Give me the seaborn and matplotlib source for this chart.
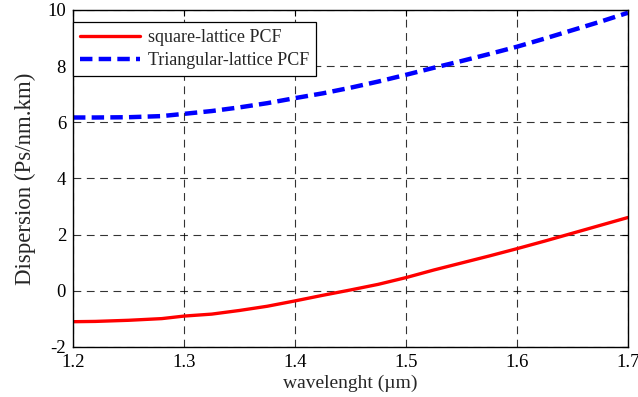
import matplotlib
matplotlib.use("Agg")
import matplotlib.pyplot as plt
import seaborn as sns
import pandas as pd

# Wavelength samples (um) and dispersion (ps/nm.km) for the two fibre designs
wavelength = [1.20, 1.22, 1.25, 1.28, 1.30, 1.325, 1.35, 1.375, 1.40, 1.425,
              1.45, 1.475, 1.50, 1.525, 1.55, 1.575, 1.60, 1.625, 1.65, 1.675, 1.70]
square_pcf = [-1.10, -1.09, -1.05, -0.99, -0.90, -0.83, -0.70, -0.55, -0.36, -0.16,
              0.03, 0.23, 0.47, 0.74, 0.99, 1.24, 1.50, 1.77, 2.05, 2.33, 2.61]
triangular_pcf = [6.17, 6.17, 6.18, 6.22, 6.30, 6.40, 6.53, 6.68, 6.86, 7.03,
                  7.23, 7.45, 7.69, 7.94, 8.18, 8.43, 8.69, 8.98, 9.28, 9.58, 9.90]

series_names = ["square-lattice PCF", "Triangular-lattice PCF"]
x_ticks = [1.2, 1.3, 1.4, 1.5, 1.6, 1.7]
y_ticks = [-2, 0, 2, 4, 6, 8, 10]

sns.set_style("white")
plt.rcParams["font.family"] = ["Liberation Serif", "DejaVu Serif"]

df = pd.DataFrame({
    "wavelength": wavelength * 2,
    "dispersion": square_pcf + triangular_pcf,
    "fibre": [series_names[0]] * len(wavelength) + [series_names[1]] * len(wavelength),
})

fig = plt.figure(figsize=(6.38, 3.97), dpi=100)
ax = fig.add_axes([0.1144, 0.126, 0.8699, 0.849])

sns.lineplot(data=df, x="wavelength", y="dispersion", hue="fibre", style="fibre",
             palette={series_names[0]: "#ff0000", series_names[1]: "#0000ff"},
             dashes={series_names[0]: "", series_names[1]: (2.8, 1.4)},
             linewidth=3.2, ax=ax, legend=False)
# solid line slightly thinner than the dashed one
ax.lines[0].set_linewidth(2.4)

ax.set_xlim(1.2, 1.7)
ax.set_ylim(-2, 10)
ax.set_xticks(x_ticks)
ax.set_yticks(y_ticks)
ax.set_xticklabels([f"{t:g}" for t in x_ticks])
ax.set_yticklabels([f"{t:g}" for t in y_ticks])

ax.grid(True, color="black", linestyle=(0, (7, 5)), linewidth=0.8, alpha=0.8)
ax.tick_params(direction="in", length=4, width=0.8, top=True, right=True,
               labelsize=13.5, pad=5, colors="black")
for s in ax.spines.values():
    s.set_visible(True)
    s.set_color("black")
    s.set_linewidth(1.0)

ax.set_xlabel("wavelenght (µm)", fontsize=14, labelpad=3)
ax.set_ylabel("Dispersion (Ps/nm.km)", fontsize=16.5, labelpad=8)

leg = ax.legend(handles=ax.lines[:2], labels=series_names, loc="upper left",
                bbox_to_anchor=(0.0, 0.965), fontsize=13, frameon=True,
                fancybox=False, edgecolor="black", framealpha=1,
                handlelength=3.3, handletextpad=0.45, borderpad=0.4,
                labelspacing=0.35, borderaxespad=0.0)
leg.get_frame().set_linewidth(0.9)

fig.savefig("out.png", dpi=100)
